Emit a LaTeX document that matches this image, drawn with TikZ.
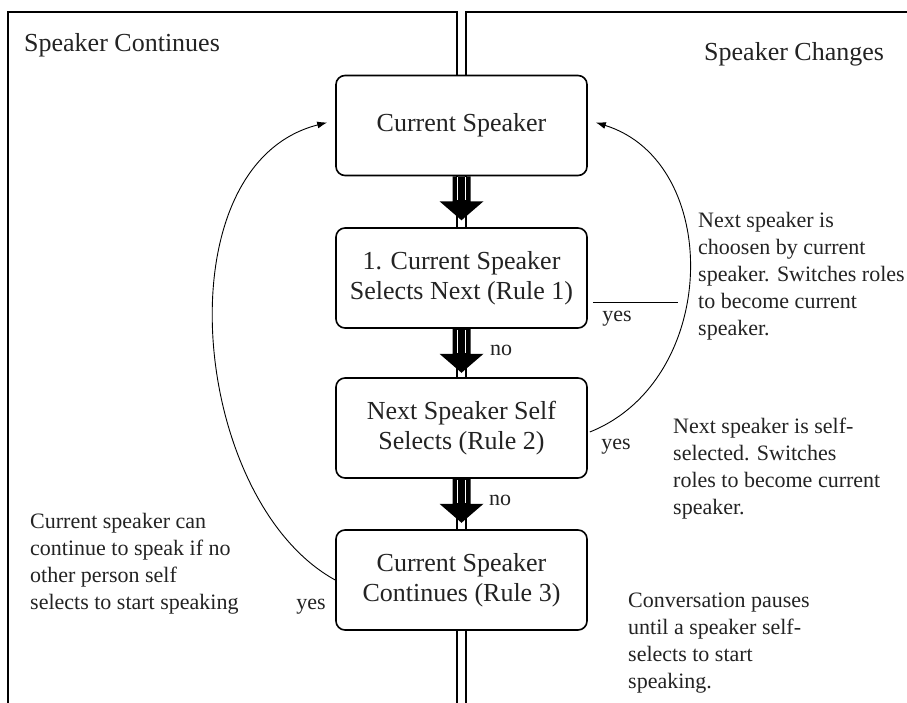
\documentclass[tikz,border=0pt]{standalone}
\usepackage{fontspec}
\setmainfont{Liberation Serif}
\usetikzlibrary{arrows.meta,calc}
\newcommand{\myboxfont}{\fontsize{26}{30}\selectfont}
\newcommand{\mynotefont}{\fontsize{22}{27}\selectfont}
\definecolor{txt}{RGB}{35,35,35}
\begin{document}
\begin{tikzpicture}[x=1pt,y=-1pt,
  box/.style={draw, line width=1.6pt, rounded corners=9pt, minimum width=251pt, minimum height=100pt,
    align=center, font=\myboxfont, fill=white, inner sep=0pt, text=txt},
  note/.style={align=left, font=\mynotefont, inner sep=0pt, anchor=north west, text=txt},
  lbl/.style={font=\mynotefont, inner sep=0pt, text=txt},
  title/.style={font=\myboxfont, inner sep=0pt, anchor=north west, text=txt},
  frameline/.style={line width=1.6pt},
  loopline/.style={line width=0.9pt, -{Latex[length=10pt,width=7pt]}},
  bigarr/.pic={
    \fill (-9,0) -- (-9,25) -- (-22,25) -- (0,44) -- (22,25) -- (9,25) -- (9,0) -- cycle;
    \draw[white, line width=0.6pt] (-4,1) -- (-4,24) (4,1) -- (4,24);
  }
]
\useasboundingbox (0,0) rectangle (907,703);
\fill[white] (0,0) rectangle (907,703);

% frames
\draw[frameline] (8,704) -- (8,12) -- (457,12) -- (457,704);
\draw[frameline] (908,12) -- (466,12) -- (466,704);

\node[title] (tc) at (24,33) {Speaker Continues};
\node[title] (tg) at (704,42) {Speaker Changes};

% boxes
\node[box] (b1) at (461.5,125.5) {Current Speaker};
\node[box] (b2) at (461.5,278) {1. Current Speaker\\Selects Next (Rule 1)};
\node[box] (b3) at (461.5,428) {Next Speaker Self\\Selects (Rule 2)};
\node[box] (b4) at (461.5,580) {Current Speaker\\Continues (Rule 3)};

% big arrows
\pic at (b1.south) {bigarr};
\pic at (b2.south) {bigarr};
\pic at (b3.south) {bigarr};

\node[lbl] (no1) at (501,350) {no};
\node[lbl] (no2) at (500,500) {no};

% loops
\draw[loopline] (b4.west) .. controls (190,500) and (160,165) .. ($(b1.west)+(-8,-3)$);
\draw[loopline] ($(b3.east)+(2,4)$) .. controls (720,380) and (723,162) .. ($(b1.east)+(8,-3)$);
\coordinate (yj) at (678,302);
\draw[line width=0.9pt] ($(b2.east)+(5,24)$) -- (yj);

\node[lbl] (y1) at (617,319) {yes};
\node[lbl] (y2) at (616,447) {yes};
\node[lbl] (y3) at (311,607) {yes};

% notes
\node[note] (n1) at (698,212) {Next speaker is\\choosen by current\\speaker. Switches roles\\to become current\\speaker.};
\node[note] (n2) at (673,418) {Next speaker is self-\\selected. Switches\\roles to become current\\speaker.};
\node[note] (n3) at (628,593) {Conversation pauses\\until a speaker self-\\selects to start\\speaking.};
\node[note] (n4) at (30,513) {Current speaker can\\continue to speak if no\\other person self\\selects to start speaking};
\end{tikzpicture}
\end{document}
